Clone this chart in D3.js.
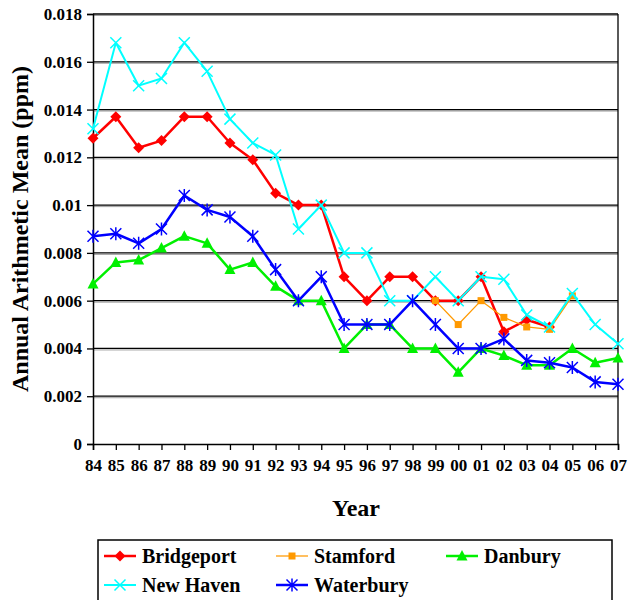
<!DOCTYPE html>
<html>
<head>
<meta charset="utf-8">
<script src="https://cdn.jsdelivr.net/npm/d3@7"></script>
<style>
  html, body { margin: 0; padding: 0; background: #fff; }
  svg { display: block; }
</style>
</head>
<body>
<svg id="chart" width="628" height="600"></svg>
<script>
const years = ["84","85","86","87","88","89","90","91","92","93","94","95","96","97","98","99","00","01","02","03","04","05","06","07"];
const yTicks = [0, 0.002, 0.004, 0.006, 0.008, 0.01, 0.012, 0.014, 0.016, 0.018];
const yTickLabels = ["0","0.002","0.004","0.006","0.008","0.01","0.012","0.014","0.016","0.018"];

const bridgeport = [0.0128,0.0137,0.0124,0.0127,0.0137,0.0137,0.0126,0.0119,0.0105,0.010,0.010,0.007,0.006,0.007,0.007,0.006,0.006,0.007,0.0047,0.0052,0.0049,null,null,null];
const stamford   = [null,null,null,null,null,null,null,null,null,null,null,null,null,null,null,0.006,0.005,0.006,0.0053,0.0049,0.0048,0.0062,null,null];
const danbury    = [0.0067,0.0076,0.0077,0.0082,0.0087,0.0084,0.0073,0.0076,0.0066,0.006,0.006,0.004,0.005,0.005,0.004,0.004,0.003,0.004,0.0037,0.0033,0.0033,0.004,0.0034,0.0036];
const newHaven   = [0.0132,0.0168,0.0150,0.0153,0.0168,0.0156,0.0136,0.0126,0.0121,0.009,0.010,0.008,0.008,0.006,0.006,0.007,0.006,0.007,0.0069,0.0054,0.0049,0.0063,0.005,0.0042];
const waterbury  = [0.0087,0.0088,0.0084,0.0090,0.0104,0.0098,0.0095,0.0087,0.0073,0.006,0.007,0.005,0.005,0.005,0.006,0.005,0.004,0.004,0.0044,0.0035,0.0034,0.0032,0.0026,0.0025];

const seriesNames = ["Bridgeport","Stamford","Danbury","New Haven","Waterbury"];
const seriesValues = [bridgeport, stamford, danbury, newHaven, waterbury];

const styles = {
  "Bridgeport": {color:"#FF0000", width:2.5, marker:"diamond"},
  "Stamford":   {color:"#FF9900", width:1.25, marker:"square"},
  "Danbury":    {color:"#00F000", width:2.5, marker:"triangle"},
  "New Haven":  {color:"#00FFFF", width:2, marker:"x"},
  "Waterbury":  {color:"#0000FF", width:2.5, marker:"star"}
};

const FONT = "'Liberation Serif', 'Times New Roman', serif";
const svg = d3.select("#chart");
const pLeft = 93, pRight = 618, pTop = 14, pBottom = 444;

const x = d3.scalePoint().domain(years).range([pLeft, pRight]);
const y = d3.scaleLinear().domain([0, 0.018]).range([pBottom, pTop]);

// gridlines
const grid = svg.append("g");
yTicks.filter(d => d > 0).forEach(d => {
  grid.append("line").attr("x1", pLeft).attr("x2", pRight).attr("y1", y(d)+1.5).attr("y2", y(d)+1.5)
    .attr("stroke", "#a0a0a0").attr("stroke-width", 1);
  grid.append("line").attr("x1", pLeft).attr("x2", pRight).attr("y1", y(d)).attr("y2", y(d))
    .attr("stroke", "#000").attr("stroke-width", 1.3);
});
// right border
svg.append("line").attr("x1", pRight).attr("x2", pRight).attr("y1", pTop).attr("y2", pBottom)
  .attr("stroke", "#000").attr("stroke-width", 1.3);

// axes
const yAxis = d3.axisLeft(y).tickValues(yTicks).tickSize(6).tickPadding(5)
  .tickFormat((d, i) => yTickLabels[i]);
const gy = svg.append("g").attr("transform", `translate(${pLeft},0)`).call(yAxis)
  .attr("font-family", FONT).attr("font-size", 17).attr("font-weight", "bold");
gy.select(".domain").attr("stroke", "#000").attr("stroke-width", 1.5);
gy.selectAll(".tick line").attr("stroke", "#000").attr("stroke-width", 1.3);
gy.selectAll(".tick text").attr("fill", "#000");

const xAxis = d3.axisBottom(x).tickSize(6).tickPadding(9);
const gx = svg.append("g").attr("transform", `translate(0,${pBottom})`).call(xAxis)
  .attr("font-family", FONT).attr("font-size", 17).attr("font-weight", "bold");
gx.select(".domain").attr("stroke", "#000").attr("stroke-width", 1.5);
gx.selectAll(".tick line").attr("stroke", "#000").attr("stroke-width", 1.3);
gx.selectAll(".tick text").attr("fill", "#000");

// axis titles
svg.append("text").attr("x", 356).attr("y", 516).attr("text-anchor", "middle")
  .attr("font-family", FONT).attr("font-weight", "bold").attr("font-size", 24).text("Year");
svg.append("text").attr("transform", `translate(28,${(pTop+pBottom)/2}) rotate(-90)`)
  .attr("text-anchor", "middle").attr("font-family", FONT).attr("font-weight", "bold")
  .attr("font-size", 24).text("Annual Arithmetic Mean (ppm)");

// markers
function drawMarker(g, type, cx, cy, color) {
  if (type === "diamond") {
    g.append("path").attr("d", `M${cx},${cy-5.5}L${cx+5.5},${cy}L${cx},${cy+5.5}L${cx-5.5},${cy}Z`).attr("fill", color);
  } else if (type === "square") {
    g.append("rect").attr("x", cx-3.5).attr("y", cy-3.5).attr("width", 7).attr("height", 7).attr("fill", color);
  } else if (type === "triangle") {
    g.append("path").attr("d", `M${cx},${cy-6}L${cx+5.5},${cy+4.5}L${cx-5.5},${cy+4.5}Z`).attr("fill", color);
  } else if (type === "x") {
    const s = 5.5;
    g.append("path").attr("d", `M${cx-s},${cy-s}L${cx+s},${cy+s}M${cx-s},${cy+s}L${cx+s},${cy-s}`)
      .attr("stroke", color).attr("stroke-width", 1.5).attr("fill", "none");
  } else if (type === "star") {
    const s = 5.5;
    g.append("path").attr("d", `M${cx-s},${cy-s}L${cx+s},${cy+s}M${cx-s},${cy+s}L${cx+s},${cy-s}M${cx},${cy-s-1}L${cx},${cy+s+1}`)
      .attr("stroke", color).attr("stroke-width", 1.5).attr("fill", "none");
  }
}

// series
seriesNames.forEach((name, si) => {
  const st = styles[name];
  const vals = seriesValues[si];
  const pts = years.map((yr, i) => ({yr, v: vals[i]}));
  const line = d3.line().defined(d => d.v !== null).x(d => x(d.yr)).y(d => y(d.v));
  const g = svg.append("g");
  g.append("path").datum(pts).attr("d", line).attr("fill", "none")
    .attr("stroke", st.color).attr("stroke-width", st.width).attr("stroke-linejoin", "round");
  pts.filter(d => d.v !== null).forEach(d => drawMarker(g, st.marker, x(d.yr), y(d.v), st.color));
});

// legend
const lg = svg.append("g");
lg.append("rect").attr("x", 98).attr("y", 540).attr("width", 514).attr("height", 66)
  .attr("fill", "#fff").attr("stroke", "#000").attr("stroke-width", 1.5);
const legendPos = [
  {lx: 104, ty: 556}, {lx: 276, ty: 556}, {lx: 446, ty: 556},
  {lx: 104, ty: 585}, {lx: 276, ty: 585}
];
seriesNames.forEach((name, i) => {
  const st = styles[name];
  const p = legendPos[i];
  lg.append("line").attr("x1", p.lx).attr("x2", p.lx+32).attr("y1", p.ty).attr("y2", p.ty)
    .attr("stroke", st.color).attr("stroke-width", st.width);
  drawMarker(lg, st.marker, p.lx+16, p.ty, st.color);
  lg.append("text").attr("x", p.lx+38).attr("y", p.ty).attr("dy", "0.35em")
    .attr("font-family", FONT).attr("font-weight", "bold").attr("font-size", 20).text(name);
});
</script>
</body>
</html>
